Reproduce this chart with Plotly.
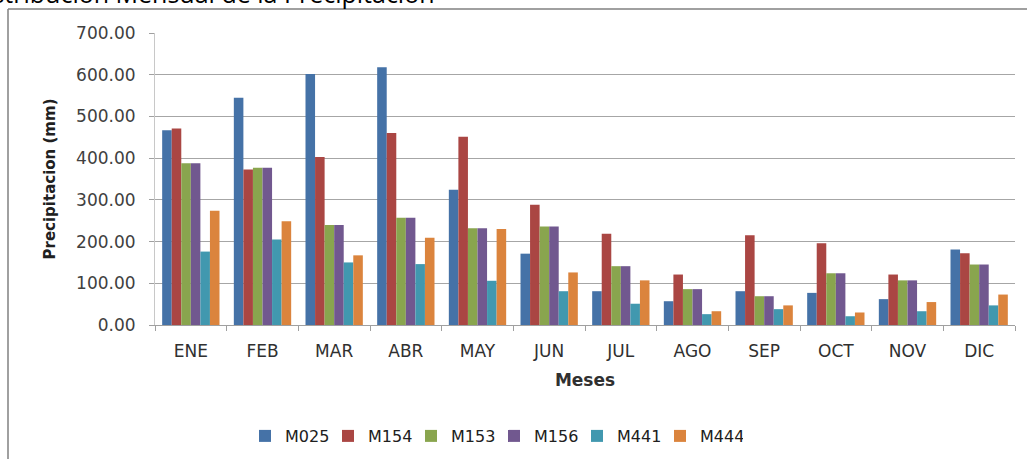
import plotly.graph_objects as go

# Monthly precipitation (mm) per station
meses = ["ENE", "FEB", "MAR", "ABR", "MAY", "JUN", "JUL", "AGO", "SEP", "OCT", "NOV", "DIC"]

m025 = [467, 545, 602, 618, 324, 171, 81, 57, 81, 77, 62, 181]
m154 = [471, 373, 403, 460, 451, 288, 219, 121, 215, 196, 121, 172]
m153 = [388, 377, 240, 257, 232, 236, 141, 86, 69, 124, 107, 145]
m156 = [388, 377, 240, 257, 232, 236, 141, 86, 69, 124, 107, 145]
m441 = [176, 205, 150, 146, 106, 81, 51, 26, 38, 21, 33, 47]
m444 = [274, 249, 167, 209, 230, 126, 107, 33, 47, 30, 55, 73]

series = [
    ("M025", m025, "#4572A7"),
    ("M154", m154, "#AA4643"),
    ("M153", m153, "#89A54E"),
    ("M156", m156, "#71588F"),
    ("M441", m441, "#4198AF"),
    ("M444", m444, "#DB843D"),
]

W, H = 1027, 459
L, R, T, B = 155, 12, 33, 134
pw, ph = W - L - R, H - T - B


def px(x):
    return (x - L) / pw


def py(y):
    return (H - B - y) / ph


font_family = "DejaVu Sans, sans-serif"
text_color = "#404040"

fig = go.Figure()
for name, vals, color in series:
    fig.add_trace(go.Bar(x=meses, y=vals, name=name,
                         marker=dict(color=color, line=dict(width=0))))

fig.update_layout(
    width=W, height=H,
    margin=dict(l=L, r=R, t=T, b=B, autoexpand=False),
    paper_bgcolor="white", plot_bgcolor="white",
    barmode="group", bargap=0.2, bargroupgap=0,
    font=dict(family=font_family, color=text_color, size=15),
    showlegend=True,
    legend=dict(orientation="h", x=px(245), xanchor="left",
                y=py(436), yanchor="middle",
                font=dict(size=16, color="#202020"),
                entrywidth=38, entrywidthmode="pixels",
                itemwidth=30, bgcolor="rgba(0,0,0,0)"),
    xaxis=dict(
        showgrid=False, showline=True, linecolor="#a0a0a0", linewidth=1,
        ticks="outside", tickson="boundaries", ticklen=5, tickcolor="#a0a0a0",
        ticklabelstandoff=11,
        tickfont=dict(size=17, color="#303030"),
        title=dict(text="<b>Meses</b>", font=dict(size=17, color="#303030"), standoff=13),
    ),
    yaxis=dict(
        range=[0, 700], dtick=100, tickformat=".2f",
        showgrid=True, gridcolor="#a6a6a6", gridwidth=1,
        showline=True, linecolor="#c8c8c8", linewidth=1,
        ticks="outside", ticklen=5, tickcolor="#a0a0a0",
        ticklabelstandoff=10,
        tickfont=dict(size=17, color=text_color),
        zeroline=False,
        title=dict(text="<b>Precipitacion (mm)</b>", font=dict(size=15, color="#202020"), standoff=16),
    ),
)

# Chart frame (left and top edges)
fig.add_shape(type="line", xref="paper", yref="paper",
              x0=px(8), x1=px(8), y0=py(9), y1=py(470),
              line=dict(color="#808080", width=1.5))
fig.add_shape(type="line", xref="paper", yref="paper",
              x0=px(8), x1=px(1040), y0=py(9), y1=py(9),
              line=dict(color="#808080", width=1.5))

# Document heading above the chart
fig.add_annotation(text="Distribucion Mensual de la Precipitacion",
                   xref="paper", yref="paper", x=px(437), y=py(12),
                   xanchor="right", yanchor="bottom", showarrow=False,
                   font=dict(size=25, color="#000000", family="Open Sans, sans-serif"))

fig.write_html("out.html")
